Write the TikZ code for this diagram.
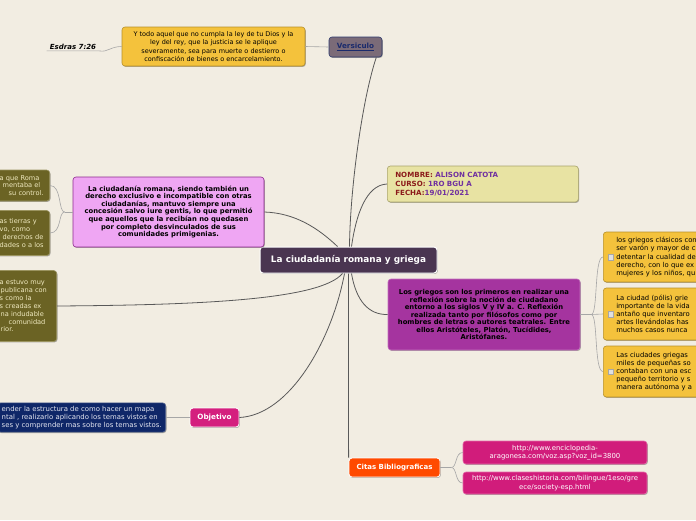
\documentclass[tikz,border=0pt]{standalone}
\usepackage{fontspec}
\setmainfont{DejaVu Sans}
\usetikzlibrary{shadows}
\definecolor{bg}{HTML}{F2EDE2}
\definecolor{yelF}{HTML}{F4C23C}
\definecolor{yelD}{HTML}{B8912A}
\definecolor{verF}{HTML}{7B6B78}
\definecolor{verD}{HTML}{2E3A6E}
\definecolor{verT}{HTML}{1A2A6C}
\definecolor{ctrF}{HTML}{4A3551}
\definecolor{nameF}{HTML}{E8E3A3}
\definecolor{nameD}{HTML}{A9A46B}
\definecolor{nred}{HTML}{8B1A1A}
\definecolor{npur}{HTML}{7030A0}
\definecolor{pinkF}{HTML}{EFA6F3}
\definecolor{pinkD}{HTML}{8E2A8E}
\definecolor{oliveF}{HTML}{6B6324}
\definecolor{oliveD}{HTML}{9B9460}
\definecolor{oliveT}{HTML}{F0EAC0}
\definecolor{purF}{HTML}{A5349F}
\definecolor{purD}{HTML}{C36FBE}
\definecolor{navyF}{HTML}{0F2768}
\definecolor{navyT}{HTML}{E4E6F0}
\definecolor{magF}{HTML}{D41F7E}
\definecolor{orgF}{HTML}{FF4A00}
\definecolor{urlF}{HTML}{D11C7B}
\definecolor{urlD}{HTML}{E46AA8}
\newcommand\fnbold{\fontsize{6.8}{7.6}\selectfont\bfseries}
\begin{document}
\begin{tikzpicture}[x=1pt,y=-1pt,
  box/.style={rectangle, rounded corners=3pt, draw, line width=0.6pt, align=center, inner sep=3pt,
    drop shadow={shadow xshift=0.8pt, shadow yshift=-0.9pt, opacity=0.3, fill=black}},
  conn/.style={draw=black!65, line width=0.8pt},
  sub/.style={draw=black!35, line width=0.6pt},
  chk/.style={rectangle, draw=black!35, fill=black!12, minimum size=5.5pt, inner sep=0pt},
  rbox/.style={box, fill=yelF, draw=yelD, anchor=west, text width=110pt, inner xsep=13pt, align=left, font=\fontsize{6.8}{8.1}\selectfont}
]
\useasboundingbox (0,0) rectangle (696,520);
\clip (0,0) rectangle (696,520);
\fill[bg] (0,0) rectangle (696,520);

% nodes
\node[box, fill=yelF, draw=yelD, minimum width=183pt, minimum height=39pt, inner xsep=1pt, font=\fontsize{6.5}{8.6}\selectfont] (yel) at (213.5,46.5)
 {Y todo aquel que no cumpla la ley de tu Dios y la\\ley del rey, que la justicia se le aplique\\severamente, sea para muerte o destierro o\\confiscación de bienes o encarcelamiento.};
\node[inner xsep=3pt, inner ysep=1.5pt, font=\fontsize{7}{8}\selectfont\bfseries\itshape] (esdras) at (73,46.5) {Esdras 7:26};
\node[box, fill=verF, draw=verD, minimum width=53pt, minimum height=20pt, inner xsep=1pt, font=\fontsize{7.2}{8}\selectfont\bfseries, text=verT] (verse) at (355.5,47) {\underline{Versiculo}};
\node[box, fill=ctrF, draw=white, line width=1pt, minimum width=177pt, minimum height=26pt, text=white, font=\fontsize{8.9}{10}\selectfont\bfseries] (ctr) at (348.5,260) {La ciudadanía romana y griega};
\node[box, fill=nameF, draw=nameD, anchor=west, minimum height=36pt, inner xsep=8pt, text width=175pt, align=left, font=\fontsize{7.1}{8.8}\selectfont\bfseries] (name) at (387,184)
 {\color{nred}NOMBRE: \color{npur}ALISON CATOTA\\\color{nred}CURSO: \color{npur}1RO BGU A\\\color{nred}FECHA:\color{npur}19/01/2021};
\node[box, fill=pinkF, draw=pinkD, minimum width=191pt, minimum height=70pt, inner xsep=1pt, font=\fnbold] (pink) at (168.5,212)
 {La ciudadanía romana, siendo también un\\derecho exclusivo e incompatible con otras\\ciudadanías, mantuvo siempre una\\concesión salvo iure gentis, lo que permitió\\que aquellos que la recibían no quedasen\\por completo desvinculados de sus\\comunidades primigenias.};
\node[box, fill=purF, draw=purD, minimum width=192pt, minimum height=71pt, inner xsep=1pt, font=\fontsize{6.8}{7.5}\selectfont\bfseries] (purple) at (484,314.5)
 {Los griegos son los primeros en realizar una\\reflexión sobre la noción de ciudadano\\entorno a los siglos V y IV a. C. Reflexión\\realizada tanto por filósofos como por\\hombres de letras o autores teatrales. Entre\\ellos Aristóteles, Platón, Tucídides,\\Aristófanes.};
% left olive boxes
\node[box, fill=oliveF, draw=oliveD, text=oliveT, anchor=east, minimum height=31pt, inner xsep=5pt, text width=45pt, align=left, font=\fontsize{6.6}{7.8}\selectfont] (ol1) at (50,185.5)
 {a que Roma\\\hspace*{3pt}mentaba el\\\hspace*{9pt}su control.};
\node[box, fill=oliveF, draw=oliveD, text=oliveT, anchor=east, minimum height=45pt, inner xsep=5pt, text width=45pt, align=left, font=\fontsize{6.6}{7.8}\selectfont] (ol2) at (50,233)
 {as tierras y\\vo, como\\\hspace*{3pt}derechos de\\dades o a los};
\node[box, fill=oliveF, draw=oliveD, text=oliveT, anchor=east, minimum height=71pt, inner xsep=5pt, text width=52pt, align=left, font=\fontsize{6.6}{7.9}\selectfont] (ol3) at (57,306)
 {a estuvo muy\\\hspace*{1pt}publicana con\\s como la\\s creadas ex\\\hspace*{1pt}na indudable\\\hspace*{9pt}comunidad\\\hspace*{1pt}rior.};
% right yellow boxes
\node[rbox, minimum height=50pt] (r1) at (603,257)
 {los griegos clásicos con\\ser varón y mayor de c\\detentar la cualidad de\\derecho, con lo que ex\\mujeres y los niños, qu};
\node[rbox, minimum height=52pt] (r2) at (603,314)
 {La ciudad (pólis) grie\\importante de la vida\\antaño que inventaro\\artes llevándolas has\\muchos casos nunca};
\node[rbox, minimum height=51pt] (r3) at (603,371.5)
 {Las ciudades griegas\\miles de pequeñas so\\contaban con una esc\\pequeño territorio y s\\manera autónoma y a};
\node[chk] (c1) at (610.5,257) {};
\node[chk] (c2) at (610.5,314) {};
\node[chk] (c3) at (610.5,371.5) {};
% objetivo
\node[box, fill=navyF, draw=navyF!70!white, text=navyT, anchor=east, minimum height=29pt, inner xsep=4pt, align=left, font=\fontsize{6.9}{8.3}\selectfont] (navy) at (166,417.5)
 {ender la estructura de como hacer un mapa\\ntal , realizarlo aplicando los temas vistos en\\ses y comprender mas sobre los temas vistos.};
\node[box, fill=magF, draw=white, line width=0.8pt, minimum width=49pt, minimum height=19pt, inner xsep=1pt, text=white, font=\fontsize{7.2}{8}\selectfont\bfseries] (obj) at (214.5,417.5) {Objetivo};
% citas
\node[box, fill=orgF, draw=white, line width=0.8pt, minimum width=91pt, minimum height=19pt, inner xsep=1pt, text=white, font=\fontsize{7}{8}\selectfont\bfseries] (citas) at (394.5,467.5) {Citas Bibliograficas};
\node[box, fill=urlF, draw=urlD, minimum width=184pt, minimum height=23pt, inner xsep=1pt, text=white, font=\fontsize{6.9}{8.4}\selectfont] (url1) at (555,452.5)
 {http://www.enciclopedia-\\aragonesa.com/voz.asp?voz\_id=3800};
\node[box, fill=urlF, draw=urlD, minimum width=184pt, minimum height=22pt, inner xsep=1pt, text=white, font=\fontsize{6.9}{8.4}\selectfont] (url2) at (555,483)
 {http://www.claseshistoria.com/bilingue/1eso/gre\\ece/society-esp.html};

% main connectors
\draw[conn] ([xshift=1pt]ctr.north) .. controls (350,190) and (362,100) .. ([xshift=-6pt]verse.south east);
\draw[conn] ([xshift=3pt]ctr.north) .. controls (356,215) and (366,185) .. (name.west);
\draw[conn] ([xshift=-11pt]ctr.north) .. controls (318,228) and (295,213) .. (pink.east);
\draw[conn] ([xshift=-6pt]ctr.south) .. controls (320,300) and (200,305) .. (ol3.east);
\draw[conn] ([xshift=3pt]ctr.south) .. controls (356,300) and (368,315) .. (purple.west);
\draw[conn] ([xshift=-4pt]ctr.south) .. controls (332,340) and (290,415) .. (obj.east);
\draw[conn] (ctr.south) -- (citas.north west);
% secondary connectors
\draw[sub] (esdras.south west) -- (esdras.south east) .. controls (108,52.5) and (110,46.5) .. (yel.west);
\draw[sub] (yel.east) -- (verse.west);
\draw[sub] (pink.west) -- ++(-8,0) coordinate (pb);
\draw[sub] (pb) .. controls (58,212) and (62,185.5) .. (ol1.east);
\draw[sub] (pb) .. controls (58,212) and (62,233) .. (ol2.east);
\draw[sub] (purple.east) -- ++(11,0) coordinate (qb);
\draw[sub] (qb) .. controls (598,314.5) and (594,257) .. (r1.west);
\draw[sub] (qb) -- (r2.west);
\draw[sub] (qb) .. controls (598,314.5) and (594,371.5) .. (r3.west);
\draw[sub] (navy.east) -- (obj.west);
\draw[sub] (citas.east) -- ++(11,0) coordinate (cb);
\draw[sub] (cb) .. controls (457,467.5) and (455,452.5) .. (url1.west);
\draw[sub] (cb) .. controls (457,467.5) and (455,483) .. (url2.west);
\end{tikzpicture}
\end{document}
